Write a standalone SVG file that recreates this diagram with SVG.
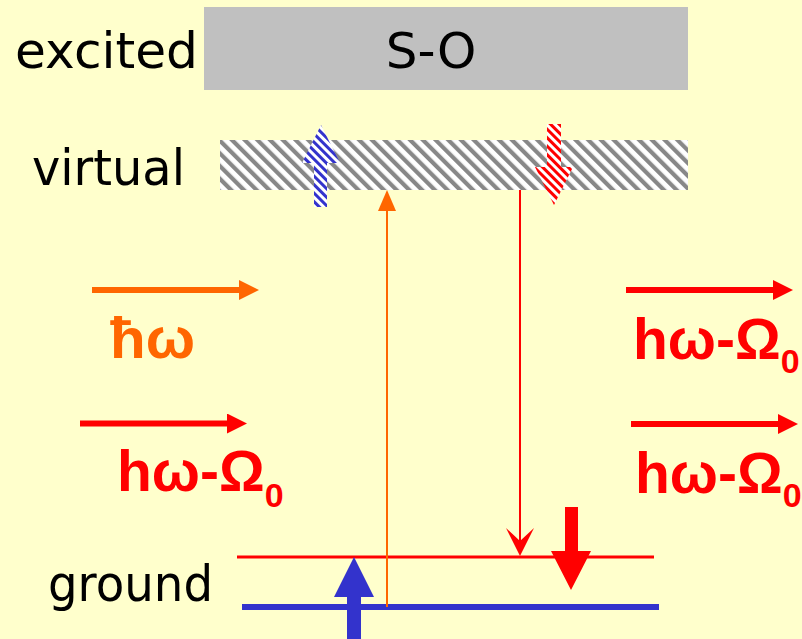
<svg xmlns="http://www.w3.org/2000/svg" width="802" height="639" viewBox="0 0 802 639">
  <style>
    .lbl { font-family: "DejaVu Sans", "Liberation Sans", sans-serif; font-size: 50px; fill: #000; }
    .eq { font-family: "Liberation Sans", Arial, sans-serif; font-weight: bold; font-size: 57px; }
    .sub { font-size: 34px; }
    .red { fill: #FF0000; }
    .org { fill: #FF6600; }
  </style>
  <defs>
    <pattern id="hatchGray" width="9" height="9" patternUnits="userSpaceOnUse" patternTransform="rotate(-45)">
      <rect width="9" height="9" fill="#FFFFFF"/>
      <rect width="4.2" height="9" fill="#888888"/>
    </pattern>
    <pattern id="hatchBlue" width="6" height="6" patternUnits="userSpaceOnUse" patternTransform="rotate(-45)">
      <rect width="6" height="6" fill="#FFFFFF"/>
      <rect width="3" height="6" fill="#3333CC"/>
    </pattern>
    <pattern id="hatchRed" width="6" height="6" patternUnits="userSpaceOnUse" patternTransform="rotate(-45)">
      <rect width="6" height="6" fill="#FFFFFF"/>
      <rect width="3" height="6" fill="#FF0000"/>
    </pattern>
    <marker id="headOrange" markerUnits="userSpaceOnUse" markerWidth="20" markerHeight="20" refX="0" refY="10" orient="auto">
      <path d="M0,0 L20,10 L0,20 Z" fill="#FF6600"/>
    </marker>
    <marker id="headRed" markerUnits="userSpaceOnUse" markerWidth="20" markerHeight="20" refX="0" refY="10" orient="auto">
      <path d="M0,0 L20,10 L0,20 Z" fill="#FF0000"/>
    </marker>
  </defs>

  <rect width="802" height="639" fill="#FFFFCC"/>

  <g id="excited">
    <rect x="204" y="7" width="484" height="83" fill="#C0C0C0"/>
    <text class="lbl" x="15" y="68" textLength="183" lengthAdjust="spacingAndGlyphs">excited</text>
    <text class="lbl" x="431" y="68" text-anchor="middle">S-O</text>
  </g>

  <g id="virtual">
    <rect x="220" y="140" width="468" height="50" fill="url(#hatchGray)"/>
    <text class="lbl" x="32" y="185" textLength="153" lengthAdjust="spacingAndGlyphs">virtual</text>
  </g>

  <g id="ground">
    <line x1="237" y1="557" x2="654" y2="557" stroke="#FF0000" stroke-width="3"/>
    <line x1="242" y1="607" x2="659" y2="607" stroke="#3333CC" stroke-width="6"/>
    <text class="lbl" x="48" y="601" textLength="165" lengthAdjust="spacingAndGlyphs">ground</text>
  </g>

  <g id="spins">
    <polygon points="321,125 340,163 327,163 327,207 314,207 314,163 302,163" fill="url(#hatchBlue)"/>
    <polygon points="547,124 561,124 561,167 573,167 554,205 535,167 547,167" fill="url(#hatchRed)"/>
    <polygon points="347,639 347,597 334,597 354,557 374,597 361,597 361,639" fill="#3333CC"/>
    <polygon points="565,507 578,507 578,551 591,551 571,590 551,551 565,551" fill="#FF0000"/>
  </g>

  <g id="photons">
    <line x1="92" y1="290" x2="239" y2="290" stroke="#FF6600" stroke-width="6" marker-end="url(#headOrange)"/>
    <text class="eq org" x="110" y="358" textLength="85" lengthAdjust="spacingAndGlyphs">ħω</text>
    <line x1="80" y1="423.5" x2="227" y2="423.5" stroke="#FF0000" stroke-width="6" marker-end="url(#headRed)"/>
    <text class="eq red" x="117" y="491">hω-Ω<tspan class="sub" dy="16">0</tspan></text>
    <line x1="626" y1="290" x2="773" y2="290" stroke="#FF0000" stroke-width="6" marker-end="url(#headRed)"/>
    <text class="eq red" x="633" y="359">hω-Ω<tspan class="sub" dy="14">0</tspan></text>
    <line x1="631" y1="424" x2="778" y2="424" stroke="#FF0000" stroke-width="6" marker-end="url(#headRed)"/>
    <text class="eq red" x="635" y="493">hω-Ω<tspan class="sub" dy="14">0</tspan></text>
  </g>

  <g id="connectors">
    <line x1="387" y1="607" x2="387" y2="205" stroke="#FF6600" stroke-width="2"/>
    <polygon points="387,190 396,211 378,211" fill="#FF6600"/>
    <line x1="520" y1="190" x2="520" y2="545" stroke="#FF0000" stroke-width="2"/>
    <polygon points="520,556 506,528 520,541 534,528" fill="#FF0000"/>
  </g>
</svg>
